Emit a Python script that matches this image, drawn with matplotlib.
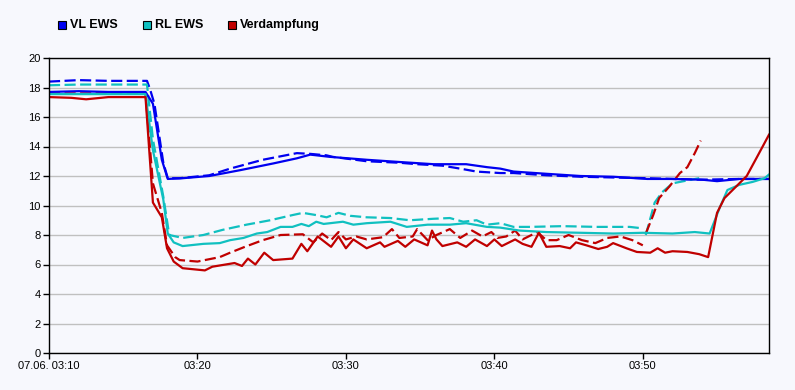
import numpy as np
import matplotlib.pyplot as plt
from matplotlib.patches import Rectangle

# minutes after 07.06. 03:10
vl_t = [0, 2, 4, 6.5, 7.0, 7.6, 8.0, 9.0, 10.8, 12.9, 15.1, 16.7, 17.6, 18.9, 21.4, 23.6, 25.9,
        28.1, 29.5, 30.4, 31.3, 33.5, 35.8, 38.0, 40.3, 42.0, 44.0, 45.0, 46.5, 48.5]
vl_v = [17.7, 17.75, 17.7, 17.7, 16.9, 13.1, 11.8, 11.85, 12.0, 12.4, 12.85, 13.2, 13.45, 13.3, 13.1, 12.95, 12.8,
        12.8, 12.6, 12.5, 12.3, 12.15, 12.0, 11.95, 11.8, 11.8, 11.75, 11.65, 11.8, 11.8]

vl2_t = [0, 2, 4, 6.6, 6.8, 7.1, 7.7, 8.0, 8.8, 10.8, 12.2, 14.4, 16.7, 17.6, 18.7, 19.1, 21.4, 23.6,
         24.8, 26.5, 27.7, 28.8, 30.4, 31.3, 33.5, 35.8, 38.0, 40.3, 42.0, 44.0, 46.5, 48.5]
vl2_v = [18.4, 18.5, 18.45, 18.45, 17.9, 16.9, 12.9, 11.85, 11.85, 12.05, 12.5, 13.1, 13.55, 13.5, 13.4, 13.3, 13.0, 12.9,
         12.8, 12.7, 12.5, 12.3, 12.2, 12.2, 12.05, 11.95, 11.9, 11.85, 11.8, 11.75, 11.8, 11.8]

rl_t = [0, 6.5, 7.0, 7.7, 8.0, 8.4, 9.0, 10.4, 11.5, 12.2, 13.1, 14.0, 14.7, 15.6, 16.4, 17.0, 17.5, 18.0,
        18.5, 19.8, 20.5, 21.4, 23.0, 24.1, 25.5, 27.0, 28.1, 29.5, 30.4, 31.7, 33.5, 35.8, 38.0, 40.0,
        42.0, 43.5, 44.5, 45.2, 45.7, 46.5, 47.4, 48.2, 48.5]
rl_v = [17.55, 17.55, 13.75, 10.4, 8.1, 7.5, 7.25, 7.4, 7.45, 7.65, 7.8, 8.1, 8.2, 8.55, 8.55, 8.75, 8.6, 8.9,
        8.75, 8.9, 8.7, 8.8, 8.9, 8.55, 8.7, 8.7, 8.8, 8.55, 8.5, 8.3, 8.2, 8.15, 8.1, 8.15,
        8.1, 8.2, 8.1, 9.9, 11.05, 11.4, 11.6, 11.85, 12.1]

rl2_t = [0, 2, 4, 6.6, 7.0, 7.7, 8.1, 9.0, 10.4, 11.7, 13.3, 14.9, 16.4, 17.1, 18.0, 18.7, 19.5, 20.3,
         21.4, 23.0, 24.3, 25.9, 27.0, 27.9, 28.8, 29.5, 30.4, 31.3, 32.4, 34.6, 36.9, 39.1, 40.0,
         np.nan, 40.2, 40.8, 41.3, 42.0, 43.0, 43.8]
rl2_v = [18.15, 18.2, 18.2, 18.2, 14.5, 10.6, 8.0, 7.8, 8.0, 8.35, 8.7, 9.0, 9.35, 9.5, 9.35, 9.2, 9.5, 9.3,
         9.2, 9.15, 9.0, 9.1, 9.15, 8.9, 9.0, 8.7, 8.8, 8.55, 8.55, 8.6, 8.55, 8.55, 8.45,
         np.nan, 8.0, 10.2, 10.9, 11.5, 11.7, 11.85]

vd_t = [0, 1.5, 2.5, 4.0, 6.5, 7.0, 7.6, 7.95, 8.4, 9.0, 10.5, 11.0, 12.5, 13.0, 13.4,
        13.9, 14.5, 15.1, 16.4, 17.0, 17.4, 18.1, 19.0, 19.5, 20.0, 20.5, 21.4, 22.3, 22.6, 23.5,
        24.0, 24.6, 25.5, 25.8, 26.1, 26.5, 27.5, 28.1, 28.7, 29.5, 30.0, 30.5, 31.4, 31.9, 32.5,
        33.0, 33.5, 34.4, 35.1, 35.5, 36.2, 37.0, 37.6, 38.0, 38.9, 39.6, 40.5, 41.0, 41.5, 42.0,
        43.0, 43.8, 44.4, 45.0, 45.5, 46.3, 47.0, 47.7, 48.5]
vd_v = [17.35, 17.3, 17.2, 17.35, 17.35, 10.2, 9.2, 7.1, 6.2, 5.75, 5.6, 5.85, 6.1, 5.9, 6.4,
        6.0, 6.8, 6.3, 6.4, 7.4, 6.9, 7.9, 7.2, 7.9, 7.1, 7.7, 7.1, 7.5, 7.2, 7.6,
        7.2, 7.7, 7.3, 8.3, 7.7, 7.25, 7.5, 7.2, 7.7, 7.25, 7.7, 7.25, 7.7, 7.4, 7.2,
        8.15, 7.2, 7.25, 7.1, 7.5, 7.3, 7.05, 7.2, 7.45, 7.1, 6.85, 6.8, 7.1, 6.8, 6.9,
        6.85, 6.7, 6.5, 9.5, 10.5, 11.3, 12.0, 13.3, 14.8]

vd2_t = [0, 6.5, 7.0, 7.6, 7.95, 8.5, 8.8, 10.0, 11.5, 12.2, 13.2, 14.4, 15.6, 17.1, 17.8,
         18.4, 19.0, 19.5, 20.0, 20.7, 21.4, 22.5, 23.1, 23.6, 24.5, 24.8, 25.5, 26.1, 27.0, 27.7,
         28.5, 29.2, 29.8, 30.2, 30.8, 31.4, 31.9, 32.9, 33.5, 34.2, 35.0, 35.9, 36.8, 37.6, 38.5,
         39.3, 40.0, np.nan, 40.2, 40.7, 41.1, 41.8, 42.5, 43.0, 43.5, 43.9]
vd2_v = [17.6, 17.6, 11.5, 9.5, 7.3, 6.5, 6.3, 6.2, 6.5, 6.8, 7.2, 7.65, 8.0, 8.05, 7.5,
         8.1, 7.65, 8.2, 7.7, 7.9, 7.7, 7.85, 8.4, 7.8, 7.9, 8.4, 7.65, 8.0, 8.4, 7.8,
         8.3, 7.9, 8.2, 7.8, 7.9, 8.3, 7.7, 8.2, 7.65, 7.65, 8.0, 7.65, 7.45, 7.8, 7.9,
         7.65, 7.3, np.nan, 8.1, 9.35, 10.5, 11.3, 12.2, 12.6, 13.55, 14.4]

tick_pos = [0, 10, 20, 30, 40]
tick_labels = ["07.06. 03:10", "03:20", "03:30", "03:40", "03:50"]
legend_labels = ["VL EWS", "RL EWS", "Verdampfung"]

blue = "#0000f0"
cyan = "#10c0c0"
red = "#c00000"
bg = "#f7f8fd"

plt.rcParams['font.family'] = ['Liberation Sans', 'DejaVu Sans']

fig = plt.figure(figsize=(7.95, 3.9), dpi=100, facecolor=bg)
ax = fig.add_axes([49/795, 37/390, 720/795, 295/390], facecolor=bg)

lw = 1.6
dash = (5, 2)
ax.plot(vl2_t, vl2_v, color=blue, lw=lw, dashes=dash)
ax.plot(rl2_t, rl2_v, color=cyan, lw=lw, dashes=dash)
ax.plot(vd2_t, vd2_v, color=red, lw=lw, dashes=dash)
ax.plot(vl_t, vl_v, color=blue, lw=lw)
ax.plot(rl_t, rl_v, color=cyan, lw=lw)
ax.plot(vd_t, vd_v, color=red, lw=lw)

ax.set_xlim(0, 48.5)
ax.set_ylim(0, 20)
ax.set_yticks(range(0, 21, 2))
ax.set_xticks(tick_pos)
ax.set_xticklabels(tick_labels)
ax.yaxis.grid(True, color="#c0c0c0", lw=1)
ax.set_axisbelow(True)
ax.tick_params(labelsize=8, length=4, width=1, colors="black", pad=2)
for s in ax.spines.values():
    s.set_linewidth(1)
    s.set_color("black")

# legend
for i, (lab, c) in enumerate(zip(legend_labels, [blue, cyan, red])):
    x0 = 58 + 85 * i
    fig.patches.append(Rectangle((x0/795, 1 - 29/390), 8/795, 8/390, transform=fig.transFigure,
                                 facecolor=c, edgecolor="black", lw=0.8))
    fig.text((x0 + 12)/795, 1 - 25/390, lab, fontsize=9, fontweight="bold", va="center", ha="left")

fig.savefig("out.png", dpi=100, facecolor=bg)
